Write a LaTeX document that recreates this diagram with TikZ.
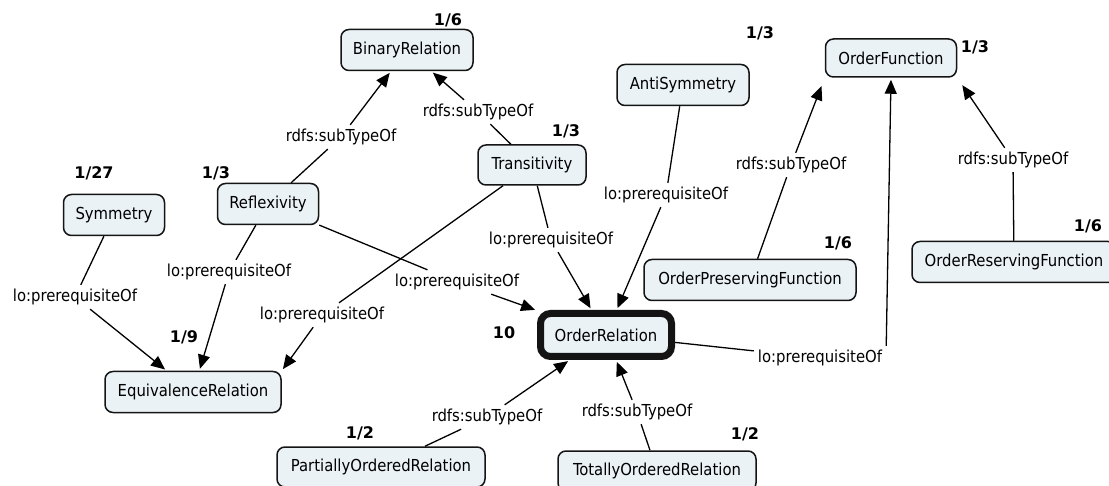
\documentclass[tikz,border=0pt]{standalone}
\usepackage{fontspec}
\setmainfont{DejaVu Sans Condensed}
\newfontfamily\numfont{DejaVu Sans}
\usetikzlibrary{arrows.meta}
\definecolor{boxfill}{RGB}{234,242,246}
\definecolor{boxline}{RGB}{20,20,20}
\begin{document}
\begin{tikzpicture}[x=1pt,y=-1pt,
  box/.style={draw=boxline, line width=1.5pt, fill=boxfill, rounded corners=8pt,
              minimum height=41pt, inner sep=0pt, font=\fontsize{16.5}{18}\selectfont},
  lab/.style={inner sep=4pt, font=\fontsize{16.5}{18}\selectfont},
  num/.style={inner sep=0pt, font=\numfont\bfseries\fontsize{16}{18}\selectfont},
  link/.style={line width=1.3pt, draw=black},
  arr/.style={link, -{Triangle[length=14pt,width=12pt]}, shorten >=2pt}]
\clip (0,0) rectangle (1109,486);
\fill[white] (0,0) rectangle (1109,486);

% concepts
\node[box, minimum width=132pt] (bin) at (407,50) {BinaryRelation};
\node[box, minimum width=108pt, minimum height=40pt] (tra) at (532,165) {Transitivity};
\node[box, minimum width=132pt] (anti) at (683,85) {AntiSymmetry};
\node[box, minimum width=131pt, minimum height=38pt] (ofn) at (891,58) {OrderFunction};
\node[box, minimum width=101pt] (sym) at (114,215) {Symmetry};
\node[box, minimum width=101pt] (refl) at (268,204) {Reflexivity};
\node[box, minimum width=131pt, minimum height=43pt, line width=7pt, rounded corners=10pt] (ord) at (606,335) {OrderRelation};
\node[box, minimum width=212pt] (opf) at (750,280) {OrderPreservingFunction};
\node[box, minimum width=204pt] (orf) at (1014,262) {OrderReservingFunction};
\node[box, minimum width=176pt] (equ) at (193,392) {EquivalenceRelation};
\node[box, minimum width=208pt, minimum height=40pt] (por) at (381,467) {PartiallyOrderedRelation};
\node[box, minimum width=198pt, minimum height=40pt] (tor) at (657,471) {TotallyOrderedRelation};

% weights
\node[num] (w1) at (448,20) {1/6};
\node[num] (w2) at (760,33) {1/3};
\node[num] (w3) at (975,47) {1/3};
\node[num] (w4) at (566,131) {1/3};
\node[num] (w5) at (94,173) {1/27};
\node[num] (w6) at (216,173) {1/3};
\node[num] (w7) at (838,243) {1/6};
\node[num] (w8) at (1088,226) {1/6};
\node[num] (w9) at (184,337) {1/9};
\node[num] (w10) at (504,333) {10};
\node[num] (w11) at (360,433) {1/2};
\node[num] (w12) at (745,434) {1/2};

% link labels
\node[lab] (l1) at (341,137) {rdfs:subTypeOf};
\node[lab] (l2) at (478,112) {rdfs:subTypeOf};
\node[lab] (l3) at (75,297) {lo:prerequisiteOf};
\node[lab] (l4) at (229,272) {lo:prerequisiteOf};
\node[lab] (l5) at (457,282) {lo:prerequisiteOf};
\node[lab] (l6) at (322,315) {lo:prerequisiteOf};
\node[lab] (l7) at (551,240) {lo:prerequisiteOf};
\node[lab] (l8) at (666,195) {lo:prerequisiteOf};
\node[lab] (l9) at (791,165) {rdfs:subTypeOf};
\node[lab] (l10) at (1013,160) {rdfs:subTypeOf};
\node[lab] (l11) at (820,358) {lo:prerequisiteOf};
\node[lab] (l12) at (487,417) {rdfs:subTypeOf};
\node[lab] (l13) at (637,412) {rdfs:subTypeOf};

% links
\draw[link] (refl) -- (l1); \draw[arr] (l1) -- (bin);
\draw[link] (tra) -- (l2);  \draw[arr] (l2) -- (bin);
\draw[link] (sym) -- (l3);  \draw[arr] (l3) -- (equ);
\draw[link] (refl) -- (l4); \draw[arr] (l4) -- (equ);
\draw[link] (refl) -- (l5); \draw[arr] (l5) -- (ord);
\draw[link] (tra) -- (l6);  \draw[arr] (l6) -- (equ.north east);
\draw[link] (tra) -- (l7);  \draw[arr] (l7) -- (ord);
\draw[link] (anti) -- (l8); \draw[arr] (l8) -- (ord);
\draw[link] (opf) -- (l9);  \draw[arr, shorten >=9pt] (l9) -- (ofn.south west);
\draw[link] (orf) -- (l10); \draw[arr, shorten >=9pt] (l10) -- (ofn.south east);
\draw[link] (ord) -- (l11); \draw[arr] (l11.north east) -- (ofn.south);
\draw[link] (por) -- (l12); \draw[arr] (l12) -- (ord);
\draw[link] (tor) -- (l13); \draw[arr] (l13) -- (ord);
\end{tikzpicture}
\end{document}
